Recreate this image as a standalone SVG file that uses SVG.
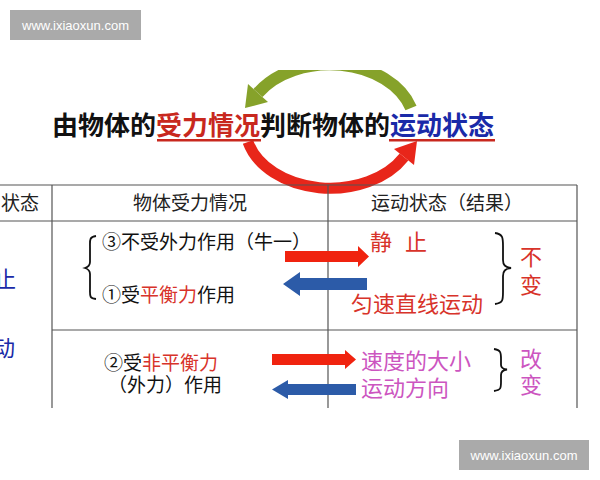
<svg xmlns="http://www.w3.org/2000/svg" width="600" height="480" viewBox="0 0 600 480">
<style>
text{font-family:"Noto Sans CJK SC","Liberation Sans",sans-serif;}
.wm{fill:#aaaaaa}
.wmt{fill:#ffffff;font-family:"Liberation Sans","DejaVu Sans",sans-serif;font-size:13px;text-anchor:middle}
.title{font-size:26px;font-weight:bold;fill:#111}
.hd{font-size:19px;fill:#222}
.blk{font-size:19px;fill:#111}
.red{fill:#d8332a}
.rt{font-size:22px;fill:#d8332a}
.mg{font-size:22px;fill:#cc55c0}
.bl{font-size:22px;fill:#1a2aa8}
.grid{stroke:#555;stroke-width:1.2;fill:none}
.brace{stroke:#111;stroke-width:1.8;fill:none}
.ra{fill:#f0230f}
.ba{fill:#2c5ba8}
</style>
<defs>
<clipPath id="clipTop"><rect x="0" y="70" width="600" height="410"/></clipPath>
</defs>
<g id="watermark-top">
<rect class="wm" x="10" y="10" width="131" height="30"/>
<text class="wmt" x="75.5" y="30">www.ixiaoxun.com</text>
</g>
<g id="watermark-bottom">
<rect class="wm" x="459" y="440" width="130" height="30"/>
<text class="wmt" x="524" y="460">www.ixiaoxun.com</text>
</g>
<g id="cycle" clip-path="url(#clipTop)">
<path d="M411,108 A85,62 0 0 0 258,93" stroke="#86a22a" stroke-width="12" fill="none"/>
<polygon points="268,102 248,84 245,108" fill="#86a22a"/>
<path d="M248,142 A85,62 0 0 0 404,157" stroke="#e8261a" stroke-width="11" fill="none"/>
<polygon points="414,165 394,149 417,141" fill="#e8261a"/>
</g>
<g id="title">
<text class="title" x="52" y="135">由物体的<tspan fill="#c8281e">受力情况</tspan>判断物体的<tspan fill="#1a2aa8">运动状态</tspan></text>
<rect x="157" y="139" width="104" height="2.5" fill="#c8281e"/>
<rect x="389" y="139" width="106" height="2.5" fill="#c8281e"/>
</g>
<g id="table">
<path class="grid" d="M0,185H577M0,221H577M52,330H577M52,185V408M328,185V408M577,185V408"/>
<text class="hd" x="1" y="210">状态</text>
<text class="hd" x="190" y="210" text-anchor="middle">物体受力情况</text>
<text class="hd" x="447" y="210" text-anchor="middle">运动状态（结果）</text>
</g>
<g id="left-col">
<text class="bl" x="-6" y="287">止</text>
<text class="bl" x="-7" y="356">动</text>
</g>
<g id="row1-cause">
<path class="brace" d="M96,236 C89,237 90,240 90,248 L90,262 C90,266 88,267 85,268 C88,269 90,270 90,274 L90,288 C90,296 89,298 96,299"/>
<text class="blk" x="102" y="249">③不受外力作用（牛一）</text>
<text class="blk" x="102" y="302">①受<tspan class="red">平衡力</tspan>作用</text>
</g>
<g id="row1-result">
<text class="rt" x="370" y="250">静<tspan x="405">止</tspan></text>
<text class="rt" x="351" y="312">匀速直线运动</text>
<path class="brace" d="M495,233 C503,234 503,238 503,246 L503,260 C503,265 505,267 511,268 C505,269 503,271 503,276 L503,292 C503,300 503,303 495,304"/>
<text class="rt" x="520" y="265">不</text>
<text class="rt" x="520" y="293">变</text>
</g>
<g id="row2-cause">
<text class="blk" x="104" y="370">②受<tspan class="red">非平衡力</tspan></text>
<text class="blk" x="108" y="392">（外力）作用</text>
</g>
<g id="row2-result">
<text class="mg" x="361" y="369">速度的大小</text>
<text class="mg" x="361" y="396">运动方向</text>
<path class="brace" d="M494,349 C501,350 501,353 501,359 L501,365 C501,367 503,369 507,369.5 C503,370 501,372 501,375 L501,382 C501,388 501,390 494,391"/>
<text class="mg" x="520" y="367">改</text>
<text class="mg" x="520" y="393">变</text>
</g>
<g id="connectors">
<polygon class="ra" points="285,251 358,251 358,246 369,256.5 358,267 358,262 285,262"/>
<polygon class="ba" points="367,278 300,278 300,272 283,284 300,296 300,290 367,290"/>
<polygon class="ra" points="272,354 345,354 345,350 356,359.5 345,369 345,365 272,365"/>
<polygon class="ba" points="356,384 288,384 288,380 272,389.5 288,399 288,395 356,395"/>
</g>
</svg>
